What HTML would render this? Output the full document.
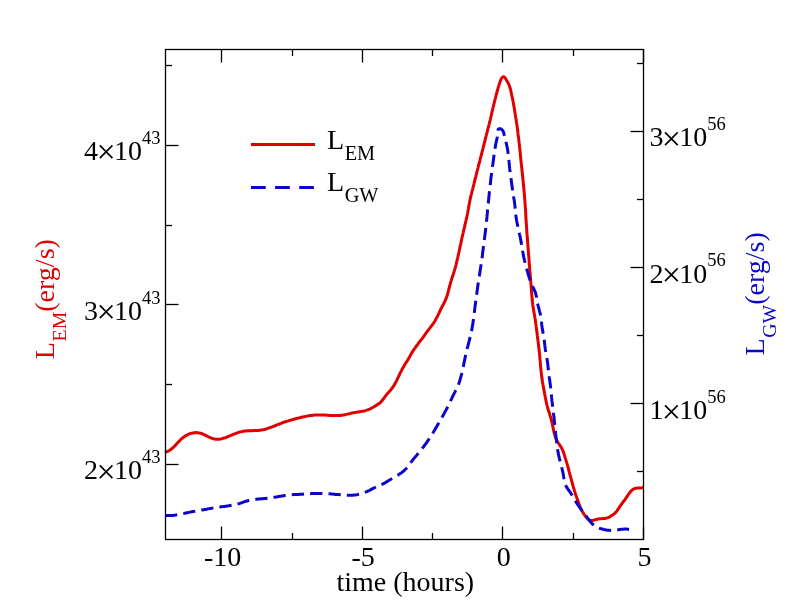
<!DOCTYPE html><html><head><meta charset="utf-8"><title>L_EM and L_GW vs time</title><style>html,body{margin:0;padding:0;background:#fff;}svg{display:block;will-change:transform;}</style></head><body>
<svg width="792" height="612" viewBox="0 0 792 612" font-family="'Liberation Serif', 'Times New Roman', serif">
<rect width="792" height="612" fill="#fff"/>
<path d="M165.0,452.4 L166.5,451.9 L167.9,451.3 L169.2,450.5 L170.4,449.7 L171.6,448.8 L172.7,447.9 L173.8,446.9 L174.9,445.8 L175.9,444.7 L176.9,443.6 L177.9,442.5 L179.0,441.4 L180.0,440.3 L181.1,439.2 L182.3,438.2 L183.5,437.3 L184.7,436.4 L186.0,435.6 L187.3,434.8 L188.7,434.2 L190.1,433.6 L191.6,433.2 L193.1,432.9 L194.6,432.7 L196.1,432.6 L197.6,432.7 L199.1,432.9 L200.5,433.2 L202.0,433.7 L203.3,434.3 L204.7,434.9 L206.1,435.6 L207.4,436.3 L208.8,437.0 L210.2,437.6 L211.6,438.2 L213.1,438.6 L214.5,439.0 L216.0,439.2 L217.5,439.3 L219.0,439.2 L220.5,439.0 L222.0,438.7 L223.4,438.2 L224.9,437.8 L226.3,437.3 L227.7,436.7 L229.1,436.2 L230.5,435.6 L231.8,435.0 L233.2,434.4 L234.6,433.8 L236.0,433.3 L237.4,432.8 L238.9,432.3 L240.3,431.9 L241.8,431.6 L243.3,431.3 L244.8,431.1 L246.3,431.0 L247.8,430.8 L249.3,430.8 L250.8,430.7 L252.3,430.7 L253.8,430.6 L255.3,430.6 L256.8,430.5 L258.3,430.4 L259.8,430.2 L261.3,430.0 L262.7,429.8 L264.2,429.5 L265.7,429.1 L267.1,428.7 L268.6,428.2 L270.0,427.7 L271.4,427.2 L272.8,426.7 L274.2,426.1 L275.6,425.5 L277.0,424.9 L278.4,424.4 L279.7,423.8 L281.2,423.3 L282.6,422.7 L284.0,422.2 L285.4,421.8 L286.8,421.3 L288.3,420.9 L289.7,420.4 L291.2,420.0 L292.6,419.6 L294.1,419.2 L295.5,418.8 L297.0,418.4 L298.4,418.0 L299.9,417.7 L301.3,417.3 L302.8,417.0 L304.3,416.7 L305.8,416.4 L307.2,416.1 L308.7,415.8 L310.2,415.6 L311.7,415.4 L313.2,415.2 L314.7,415.1 L316.2,415.0 L317.7,414.9 L319.2,414.9 L320.7,414.9 L322.2,415.0 L323.7,415.0 L325.2,415.1 L326.7,415.2 L328.2,415.3 L329.7,415.4 L331.2,415.5 L332.7,415.5 L334.2,415.6 L335.8,415.6 L337.3,415.5 L338.8,415.5 L340.3,415.4 L341.8,415.2 L343.2,415.0 L344.7,414.7 L346.2,414.4 L347.6,414.1 L349.1,413.7 L350.6,413.4 L352.0,413.0 L353.5,412.7 L355.0,412.4 L356.5,412.2 L358.0,412.0 L359.5,411.8 L361.0,411.6 L362.5,411.3 L363.9,411.0 L365.4,410.7 L366.8,410.2 L368.2,409.7 L369.6,409.1 L371.0,408.4 L372.3,407.7 L373.6,407.0 L374.9,406.2 L376.2,405.4 L377.4,404.6 L378.7,403.8 L379.9,402.8 L381.0,401.8 L382.0,400.7 L382.9,399.5 L383.8,398.3 L384.7,397.1 L385.6,395.9 L386.5,394.7 L387.5,393.6 L388.5,392.4 L389.5,391.3 L390.5,390.2 L391.4,389.0 L392.4,387.8 L393.2,386.6 L394.1,385.3 L394.8,384.0 L395.5,382.7 L396.2,381.4 L396.9,380.0 L397.5,378.7 L398.2,377.3 L398.8,375.9 L399.5,374.6 L400.1,373.2 L400.8,371.9 L401.5,370.6 L402.2,369.2 L402.9,367.9 L403.7,366.6 L404.4,365.3 L405.2,364.0 L406.0,362.7 L406.8,361.5 L407.6,360.2 L408.4,358.9 L409.1,357.6 L409.9,356.3 L410.6,355.0 L411.3,353.7 L412.1,352.4 L412.9,351.1 L413.7,349.8 L414.6,348.6 L415.5,347.4 L416.3,346.2 L417.2,345.0 L418.1,343.8 L419.0,342.5 L419.9,341.3 L420.9,340.1 L421.8,339.0 L422.7,337.8 L423.6,336.5 L424.5,335.3 L425.3,334.1 L426.2,332.9 L427.1,331.7 L428.0,330.5 L428.9,329.3 L429.8,328.1 L430.8,326.9 L431.7,325.7 L432.6,324.5 L433.4,323.3 L434.3,322.0 L435.1,320.7 L435.8,319.4 L436.5,318.1 L437.2,316.8 L437.9,315.4 L438.5,314.1 L439.2,312.7 L439.8,311.3 L440.5,310.0 L441.1,308.6 L441.8,307.3 L442.5,306.0 L443.2,304.7 L443.9,303.3 L444.6,302.0 L445.2,300.6 L445.8,299.2 L446.4,297.8 L446.8,296.4 L447.3,295.0 L447.7,293.5 L448.1,292.1 L448.5,290.6 L448.9,289.2 L449.2,287.7 L449.6,286.2 L450.0,284.8 L450.4,283.3 L450.8,281.9 L451.3,280.4 L451.7,279.0 L452.2,277.6 L452.6,276.1 L453.1,274.7 L453.6,273.3 L454.0,271.9 L454.5,270.4 L454.9,269.0 L455.3,267.5 L455.7,266.1 L456.1,264.6 L456.4,263.2 L456.8,261.7 L457.1,260.2 L457.4,258.8 L457.8,257.3 L458.1,255.8 L458.4,254.4 L458.8,252.9 L459.1,251.4 L459.4,250.0 L459.7,248.5 L460.0,247.0 L460.3,245.5 L460.7,244.1 L461.0,242.6 L461.3,241.1 L461.6,239.7 L461.9,238.2 L462.3,236.7 L462.6,235.3 L462.9,233.8 L463.3,232.3 L463.6,230.9 L463.9,229.4 L464.3,227.9 L464.6,226.5 L465.0,225.0 L465.3,223.5 L465.6,222.1 L466.0,220.6 L466.3,219.1 L466.7,217.7 L467.0,216.2 L467.3,214.7 L467.6,213.3 L467.8,211.8 L468.1,210.3 L468.4,208.8 L468.6,207.3 L468.9,205.9 L469.2,204.4 L469.4,202.9 L469.7,201.4 L470.0,199.9 L470.3,198.5 L470.7,197.0 L471.0,195.6 L471.4,194.1 L471.7,192.6 L472.1,191.2 L472.5,189.7 L472.9,188.3 L473.2,186.8 L473.6,185.4 L474.0,183.9 L474.3,182.4 L474.7,181.0 L475.0,179.5 L475.4,178.0 L475.8,176.6 L476.1,175.1 L476.5,173.7 L476.8,172.2 L477.2,170.8 L477.6,169.3 L478.0,167.8 L478.3,166.4 L478.7,164.9 L479.1,163.5 L479.5,162.0 L479.9,160.6 L480.2,159.1 L480.6,157.7 L481.0,156.2 L481.4,154.7 L481.7,153.3 L482.1,151.8 L482.5,150.4 L482.9,148.9 L483.2,147.5 L483.6,146.0 L484.0,144.5 L484.3,143.1 L484.7,141.6 L485.1,140.2 L485.4,138.7 L485.8,137.2 L486.2,135.8 L486.5,134.3 L486.9,132.9 L487.3,131.4 L487.7,130.0 L488.0,128.5 L488.4,127.1 L488.8,125.6 L489.2,124.1 L489.5,122.7 L489.9,121.2 L490.3,119.8 L490.6,118.3 L490.9,116.8 L491.3,115.4 L491.6,113.9 L491.9,112.4 L492.3,111.0 L492.6,109.5 L492.9,108.0 L493.3,106.6 L493.6,105.1 L494.0,103.6 L494.4,102.2 L494.7,100.7 L495.1,99.3 L495.5,97.8 L495.8,96.4 L496.2,94.9 L496.6,93.5 L497.0,92.0 L497.4,90.5 L497.8,89.1 L498.2,87.6 L498.7,86.2 L499.1,84.7 L499.5,83.3 L500.0,82.0 L500.5,80.6 L501.1,79.2 L502.1,77.7 L503.2,76.7 L504.3,76.9 L505.3,78.2 L506.2,79.7 L507.0,81.1 L507.8,82.3 L508.4,83.5 L509.0,84.9 L509.6,86.3 L510.0,87.8 L510.5,89.2 L510.8,90.7 L511.1,92.2 L511.4,93.6 L511.7,95.1 L512.1,96.6 L512.4,98.0 L512.7,99.5 L513.0,101.0 L513.3,102.5 L513.5,103.9 L513.8,105.4 L514.0,106.9 L514.3,108.4 L514.5,109.9 L514.8,111.4 L515.0,112.8 L515.2,114.3 L515.5,115.8 L515.7,117.3 L516.0,118.8 L516.2,120.3 L516.4,121.7 L516.6,123.2 L516.9,124.7 L517.1,126.2 L517.3,127.7 L517.5,129.2 L517.7,130.7 L517.9,132.2 L518.0,133.7 L518.2,135.2 L518.4,136.7 L518.6,138.1 L518.8,139.6 L518.9,141.1 L519.1,142.6 L519.3,144.1 L519.4,145.6 L519.6,147.1 L519.8,148.6 L519.9,150.1 L520.1,151.6 L520.2,153.1 L520.4,154.6 L520.5,156.1 L520.7,157.6 L520.8,159.1 L521.0,160.6 L521.1,162.1 L521.3,163.6 L521.4,165.1 L521.6,166.6 L521.8,168.1 L521.9,169.5 L522.1,171.0 L522.2,172.5 L522.4,174.0 L522.5,175.5 L522.7,177.0 L522.8,178.5 L523.0,180.0 L523.2,181.5 L523.3,183.0 L523.4,184.5 L523.6,186.0 L523.7,187.5 L523.9,189.0 L524.0,190.5 L524.1,192.0 L524.3,193.5 L524.4,195.0 L524.5,196.5 L524.6,198.0 L524.8,199.5 L524.9,201.0 L525.0,202.5 L525.1,204.0 L525.2,205.5 L525.3,207.0 L525.4,208.5 L525.5,210.0 L525.6,211.5 L525.7,213.0 L525.8,214.5 L525.8,216.0 L525.9,217.5 L526.0,219.0 L526.1,220.5 L526.2,222.0 L526.3,223.5 L526.4,225.0 L526.5,226.5 L526.6,228.0 L526.7,229.5 L526.8,231.0 L526.9,232.5 L527.0,234.0 L527.1,235.5 L527.2,237.0 L527.4,238.5 L527.5,240.0 L527.6,241.5 L527.7,243.0 L527.8,244.5 L527.9,246.0 L528.1,247.5 L528.2,249.0 L528.3,250.5 L528.4,252.0 L528.5,253.5 L528.6,255.0 L528.8,256.5 L528.9,258.0 L529.0,259.5 L529.1,261.0 L529.2,262.5 L529.3,264.0 L529.4,265.5 L529.6,267.0 L529.7,268.5 L529.8,270.0 L529.9,271.5 L530.0,273.0 L530.2,274.5 L530.3,276.0 L530.4,277.5 L530.5,279.0 L530.7,280.5 L530.8,282.0 L530.9,283.5 L531.0,285.0 L531.2,286.5 L531.3,288.0 L531.4,289.5 L531.5,291.0 L531.6,292.5 L531.7,294.0 L531.8,295.5 L532.0,297.0 L532.1,298.5 L532.2,300.0 L532.4,301.5 L532.6,302.9 L532.7,304.4 L532.9,305.9 L533.1,307.4 L533.4,308.9 L533.6,310.4 L533.9,311.9 L534.1,313.4 L534.4,314.8 L534.7,316.3 L534.9,317.8 L535.2,319.3 L535.4,320.8 L535.6,322.3 L535.8,323.7 L536.1,325.2 L536.2,326.7 L536.4,328.2 L536.6,329.7 L536.8,331.2 L537.0,332.7 L537.2,334.2 L537.3,335.7 L537.5,337.2 L537.7,338.7 L537.9,340.2 L538.1,341.6 L538.3,343.1 L538.5,344.6 L538.6,346.1 L538.8,347.6 L539.0,349.1 L539.2,350.6 L539.3,352.1 L539.5,353.6 L539.6,355.1 L539.8,356.6 L539.9,358.1 L540.0,359.6 L540.2,361.1 L540.3,362.6 L540.4,364.1 L540.5,365.6 L540.7,367.1 L540.8,368.6 L541.0,370.1 L541.1,371.6 L541.3,373.1 L541.5,374.6 L541.6,376.0 L541.9,377.5 L542.1,379.0 L542.3,380.5 L542.5,382.0 L542.8,383.5 L543.0,385.0 L543.3,386.4 L543.6,387.9 L543.8,389.4 L544.1,390.9 L544.4,392.4 L544.6,393.8 L544.9,395.3 L545.2,396.8 L545.5,398.3 L545.8,399.8 L546.1,401.2 L546.4,402.7 L546.7,404.2 L547.1,405.6 L547.5,407.1 L547.9,408.5 L548.3,410.0 L548.8,411.4 L549.2,412.8 L549.7,414.3 L550.1,415.7 L550.6,417.1 L551.0,418.6 L551.4,420.0 L551.7,421.5 L552.1,423.0 L552.4,424.4 L552.7,425.9 L553.0,427.4 L553.3,428.9 L553.6,430.3 L553.9,431.8 L554.3,433.3 L554.7,434.7 L555.1,436.1 L555.6,437.6 L556.2,439.0 L556.8,440.3 L557.5,441.7 L558.3,443.0 L559.1,444.2 L559.9,445.5 L560.8,446.7 L561.6,448.0 L562.3,449.3 L562.9,450.7 L563.4,452.1 L563.9,453.5 L564.3,455.0 L564.8,456.4 L565.2,457.9 L565.7,459.3 L566.1,460.7 L566.6,462.2 L567.0,463.6 L567.4,465.1 L567.8,466.5 L568.2,468.0 L568.6,469.4 L568.9,470.9 L569.3,472.3 L569.7,473.8 L570.1,475.2 L570.5,476.7 L570.9,478.1 L571.3,479.6 L571.7,481.1 L572.1,482.5 L572.5,483.9 L572.9,485.4 L573.3,486.8 L573.7,488.3 L574.2,489.7 L574.6,491.1 L575.1,492.6 L575.5,494.0 L576.0,495.4 L576.5,496.9 L577.0,498.3 L577.5,499.7 L578.0,501.1 L578.5,502.5 L579.0,504.0 L579.5,505.4 L580.1,506.8 L580.7,508.2 L581.3,509.5 L582.0,510.9 L582.7,512.2 L583.5,513.4 L584.3,514.7 L585.2,515.9 L586.1,517.1 L587.2,518.2 L588.4,519.3 L589.7,520.2 L591.0,520.6 L592.4,520.6 L593.9,520.2 L595.4,519.7 L596.9,519.2 L598.4,519.0 L599.9,518.8 L601.4,518.7 L602.9,518.6 L604.4,518.5 L605.9,518.2 L607.3,517.9 L608.7,517.3 L610.1,516.6 L611.3,515.8 L612.6,515.0 L613.8,514.1 L615.0,513.1 L616.0,512.1 L617.0,510.9 L617.8,509.7 L618.6,508.4 L619.5,507.1 L620.3,505.9 L621.2,504.7 L622.1,503.4 L623.0,502.2 L623.9,501.0 L624.8,499.8 L625.6,498.6 L626.5,497.4 L627.3,496.1 L628.1,494.9 L629.0,493.6 L629.9,492.4 L630.9,491.2 L632.0,490.2 L633.2,489.3 L634.5,488.6 L636.0,488.2 L637.5,488.1 L639.0,488.0 L640.6,487.9 L642.1,487.8 L643.5,487.5" fill="none" stroke="#e00000" stroke-width="3" stroke-linejoin="round" stroke-linecap="butt"/>
<path d="M165.0,515.4 L166.5,515.5 L168.0,515.6 L169.5,515.6 L171.0,515.5 L172.5,515.4 L174.0,515.3 L175.5,515.1 L177.0,514.8 L178.5,514.6 L179.9,514.3 L181.4,514.0 L182.9,513.7 L184.4,513.4 L185.8,513.0 L187.3,512.7 L188.8,512.4 L190.3,512.1 L191.7,511.8 L193.2,511.5 L194.7,511.3 L196.2,511.0 L197.6,510.7 L199.1,510.5 L200.6,510.2 L202.1,509.9 L203.6,509.7 L205.0,509.4 L206.5,509.2 L208.0,508.9 L209.5,508.6 L210.9,508.4 L212.4,508.1 L213.9,507.8 L215.4,507.6 L216.9,507.4 L218.4,507.1 L219.8,506.9 L221.3,506.7 L222.8,506.6 L224.3,506.4 L225.8,506.2 L227.3,506.0 L228.8,505.8 L230.3,505.5 L231.8,505.3 L233.2,505.0 L234.7,504.7 L236.2,504.4 L237.6,504.0 L239.1,503.6 L240.5,503.1 L241.9,502.7 L243.4,502.2 L244.8,501.7 L246.2,501.2 L247.7,500.8 L249.1,500.4 L250.6,500.1 L252.1,499.8 L253.5,499.6 L255.0,499.4 L256.5,499.2 L258.0,499.0 L259.5,498.9 L261.0,498.8 L262.5,498.7 L264.0,498.6 L265.5,498.5 L267.0,498.3 L268.5,498.2 L270.0,498.0 L271.5,497.8 L273.0,497.6 L274.5,497.3 L275.9,497.1 L277.4,496.8 L278.9,496.5 L280.4,496.2 L281.9,496.0 L283.3,495.7 L284.8,495.5 L286.3,495.3 L287.8,495.1 L289.3,494.9 L290.8,494.8 L292.3,494.7 L293.8,494.6 L295.3,494.5 L296.8,494.4 L298.3,494.4 L299.8,494.3 L301.3,494.2 L302.8,494.2 L304.3,494.1 L305.8,494.0 L307.3,493.9 L308.8,493.8 L310.3,493.7 L311.8,493.6 L313.3,493.5 L314.8,493.4 L316.3,493.4 L317.8,493.4 L319.3,493.4 L320.8,493.4 L322.3,493.4 L323.8,493.5 L325.3,493.6 L326.8,493.6 L328.3,493.7 L329.8,493.8 L331.3,494.0 L332.8,494.1 L334.3,494.2 L335.8,494.4 L337.3,494.5 L338.8,494.6 L340.3,494.8 L341.8,494.9 L343.3,495.0 L344.8,495.1 L346.3,495.2 L347.8,495.2 L349.3,495.2 L350.8,495.2 L352.3,495.2 L353.8,495.1 L355.3,494.9 L356.8,494.7 L358.3,494.4 L359.7,494.1 L361.2,493.7 L362.6,493.2 L364.0,492.7 L365.4,492.2 L366.8,491.6 L368.2,490.9 L369.6,490.3 L370.9,489.6 L372.2,488.9 L373.6,488.2 L374.9,487.5 L376.2,486.8 L377.6,486.2 L379.0,485.6 L380.4,485.0 L381.8,484.4 L383.1,483.8 L384.5,483.1 L385.8,482.4 L387.0,481.6 L388.3,480.8 L389.6,480.0 L390.9,479.2 L392.2,478.5 L393.5,477.7 L394.8,477.0 L396.1,476.2 L397.4,475.4 L398.7,474.6 L399.9,473.8 L401.2,472.9 L402.4,472.0 L403.5,471.1 L404.6,470.1 L405.7,469.0 L406.7,467.9 L407.6,466.7 L408.5,465.6 L409.4,464.3 L410.3,463.1 L411.2,461.9 L412.2,460.7 L413.1,459.5 L414.0,458.4 L415.0,457.2 L416.0,456.1 L417.0,454.9 L417.9,453.8 L418.9,452.6 L419.9,451.5 L420.8,450.3 L421.7,449.1 L422.6,447.9 L423.6,446.7 L424.4,445.5 L425.3,444.3 L426.2,443.1 L427.1,441.9 L427.9,440.6 L428.8,439.4 L429.6,438.1 L430.4,436.9 L431.2,435.6 L432.0,434.3 L432.8,433.0 L433.6,431.8 L434.4,430.5 L435.1,429.2 L435.9,427.9 L436.7,426.6 L437.4,425.3 L438.2,424.0 L438.9,422.7 L439.7,421.4 L440.4,420.1 L441.2,418.8 L441.9,417.5 L442.6,416.2 L443.4,414.9 L444.1,413.6 L444.8,412.2 L445.6,410.9 L446.3,409.6 L447.0,408.3 L447.7,406.9 L448.4,405.6 L449.0,404.3 L449.7,402.9 L450.3,401.5 L450.9,400.2 L451.6,398.8 L452.2,397.4 L452.8,396.1 L453.5,394.7 L454.2,393.4 L454.9,392.1 L455.6,390.7 L456.3,389.4 L457.0,388.1 L457.6,386.7 L458.2,385.3 L458.7,383.9 L459.2,382.5 L459.7,381.1 L460.1,379.6 L460.5,378.2 L460.9,376.7 L461.3,375.3 L461.7,373.8 L462.0,372.3 L462.3,370.9 L462.6,369.4 L463.0,367.9 L463.3,366.5 L463.6,365.0 L463.9,363.5 L464.2,362.0 L464.5,360.6 L464.8,359.1 L465.1,357.6 L465.4,356.2 L465.7,354.7 L466.0,353.2 L466.4,351.8 L466.8,350.3 L467.1,348.9 L467.5,347.4 L467.9,345.9 L468.3,344.5 L468.7,343.0 L469.0,341.6 L469.4,340.1 L469.8,338.7 L470.1,337.2 L470.5,335.8 L470.8,334.3 L471.2,332.8 L471.5,331.4 L471.8,329.9 L472.0,328.4 L472.3,326.9 L472.5,325.4 L472.8,324.0 L473.0,322.5 L473.2,321.0 L473.4,319.5 L473.6,318.0 L473.8,316.5 L474.0,315.0 L474.2,313.5 L474.4,312.0 L474.6,310.5 L474.7,309.1 L474.9,307.6 L475.1,306.1 L475.3,304.6 L475.5,303.1 L475.7,301.6 L475.9,300.1 L476.1,298.6 L476.3,297.1 L476.5,295.6 L476.7,294.2 L476.9,292.7 L477.1,291.2 L477.3,289.7 L477.5,288.2 L477.7,286.7 L477.9,285.2 L478.1,283.7 L478.4,282.3 L478.6,280.8 L478.8,279.3 L479.0,277.8 L479.3,276.3 L479.5,274.8 L479.7,273.3 L480.0,271.9 L480.2,270.4 L480.4,268.9 L480.7,267.4 L480.9,265.9 L481.1,264.4 L481.3,262.9 L481.6,261.5 L481.8,260.0 L482.0,258.5 L482.2,257.0 L482.4,255.5 L482.5,254.0 L482.7,252.5 L482.9,251.0 L483.1,249.5 L483.3,248.0 L483.4,246.5 L483.6,245.1 L483.8,243.6 L484.0,242.1 L484.2,240.6 L484.4,239.1 L484.6,237.6 L484.8,236.1 L485.0,234.6 L485.2,233.1 L485.4,231.6 L485.5,230.2 L485.7,228.7 L485.9,227.2 L486.1,225.7 L486.2,224.2 L486.4,222.7 L486.5,221.2 L486.7,219.7 L486.8,218.2 L487.0,216.7 L487.1,215.2 L487.3,213.7 L487.4,212.2 L487.5,210.7 L487.7,209.2 L487.8,207.7 L488.0,206.2 L488.1,204.7 L488.3,203.2 L488.4,201.8 L488.6,200.3 L488.7,198.8 L488.9,197.3 L489.0,195.8 L489.2,194.3 L489.3,192.8 L489.5,191.3 L489.7,189.8 L489.8,188.3 L490.0,186.8 L490.2,185.3 L490.3,183.8 L490.5,182.3 L490.7,180.8 L490.8,179.3 L491.0,177.8 L491.2,176.3 L491.4,174.9 L491.6,173.4 L491.8,171.9 L491.9,170.4 L492.1,168.9 L492.3,167.4 L492.5,166.0 L492.8,164.5 L493.0,163.0 L493.2,161.5 L493.4,160.0 L493.6,158.5 L493.8,157.0 L494.0,155.5 L494.2,154.0 L494.5,152.5 L494.7,150.9 L494.9,149.4 L495.1,147.9 L495.4,146.4 L495.6,144.9 L495.9,143.5 L496.2,142.1 L496.5,140.7 L496.8,139.4 L497.1,138.0 L497.3,136.5 L497.5,134.8 L497.6,133.0 L497.7,131.1 L498.1,129.6 L498.9,128.7 L500.2,128.7 L501.7,129.4 L502.7,130.5 L503.4,131.9 L503.9,133.4 L504.2,134.9 L504.6,136.3 L505.0,137.8 L505.3,139.2 L505.7,140.7 L506.0,142.1 L506.4,143.6 L506.7,145.1 L507.0,146.5 L507.3,148.0 L507.6,149.5 L507.8,151.0 L508.0,152.5 L508.2,154.0 L508.4,155.4 L508.6,156.9 L508.7,158.4 L508.9,159.9 L509.0,161.4 L509.2,162.9 L509.3,164.4 L509.4,165.9 L509.6,167.4 L509.7,168.9 L509.9,170.4 L510.1,171.9 L510.2,173.4 L510.4,174.9 L510.6,176.4 L510.9,177.8 L511.1,179.3 L511.3,180.8 L511.5,182.3 L511.7,183.8 L511.9,185.3 L512.1,186.8 L512.3,188.3 L512.5,189.8 L512.7,191.2 L513.0,192.7 L513.2,194.2 L513.5,195.7 L513.7,197.2 L513.9,198.7 L514.2,200.1 L514.4,201.6 L514.6,203.1 L514.8,204.6 L515.0,206.1 L515.1,207.6 L515.2,209.1 L515.4,210.6 L515.5,212.1 L515.7,213.6 L515.8,215.1 L516.0,216.6 L516.2,218.1 L516.5,219.5 L516.7,221.0 L517.0,222.5 L517.3,224.0 L517.6,225.5 L517.9,226.9 L518.2,228.4 L518.5,229.9 L518.9,231.3 L519.2,232.8 L519.5,234.3 L519.9,235.7 L520.2,237.2 L520.5,238.7 L520.8,240.1 L521.0,241.6 L521.3,243.1 L521.5,244.6 L521.8,246.1 L522.0,247.5 L522.3,249.0 L522.5,250.5 L522.8,252.0 L523.1,253.5 L523.3,254.9 L523.6,256.4 L523.9,257.9 L524.3,259.3 L524.6,260.8 L525.0,262.3 L525.3,263.7 L525.7,265.2 L526.1,266.6 L526.5,268.1 L526.9,269.5 L527.3,271.0 L527.7,272.4 L528.1,273.9 L528.5,275.3 L529.0,276.8 L529.4,278.2 L529.9,279.6 L530.4,281.0 L530.9,282.4 L531.5,283.8 L532.1,285.2 L532.7,286.6 L533.4,288.0 L534.0,289.3 L534.6,290.7 L535.2,292.1 L535.7,293.5 L536.0,294.9 L536.4,296.4 L536.6,297.9 L536.9,299.4 L537.1,300.9 L537.4,302.3 L537.7,303.8 L538.0,305.3 L538.4,306.8 L538.8,308.2 L539.2,309.7 L539.5,311.1 L539.9,312.6 L540.3,314.0 L540.6,315.5 L540.8,317.0 L541.1,318.4 L541.3,319.9 L541.4,321.4 L541.6,322.9 L541.7,324.4 L541.9,325.9 L542.1,327.4 L542.3,328.9 L542.6,330.4 L542.9,331.9 L543.1,333.3 L543.4,334.8 L543.7,336.3 L543.9,337.8 L544.1,339.3 L544.3,340.8 L544.5,342.2 L544.7,343.7 L544.8,345.2 L545.0,346.7 L545.2,348.2 L545.4,349.7 L545.7,351.2 L545.9,352.7 L546.2,354.1 L546.5,355.6 L546.7,357.1 L547.0,358.6 L547.2,360.1 L547.4,361.6 L547.6,363.0 L547.8,364.5 L547.9,366.0 L548.1,367.5 L548.2,369.0 L548.4,370.5 L548.5,372.0 L548.7,373.5 L548.9,375.0 L549.1,376.5 L549.3,378.0 L549.6,379.5 L549.8,380.9 L550.0,382.4 L550.2,383.9 L550.4,385.4 L550.6,386.9 L550.7,388.4 L550.9,389.9 L551.0,391.4 L551.2,392.9 L551.3,394.4 L551.5,395.9 L551.6,397.4 L551.8,398.9 L551.9,400.4 L552.1,401.9 L552.3,403.3 L552.4,404.8 L552.6,406.3 L552.8,407.8 L553.0,409.3 L553.2,410.8 L553.4,412.3 L553.5,413.8 L553.7,415.3 L553.9,416.8 L554.1,418.3 L554.3,419.8 L554.4,421.2 L554.6,422.7 L554.7,424.2 L554.9,425.7 L555.0,427.2 L555.2,428.7 L555.3,430.2 L555.5,431.7 L555.6,433.2 L555.8,434.7 L556.0,436.2 L556.1,437.7 L556.3,439.2 L556.5,440.7 L556.6,442.2 L556.8,443.7 L557.0,445.1 L557.2,446.6 L557.4,448.1 L557.6,449.6 L557.9,451.1 L558.1,452.6 L558.4,454.1 L558.7,455.5 L559.1,457.0 L559.4,458.4 L559.8,459.9 L560.2,461.4 L560.6,462.8 L561.0,464.3 L561.3,465.7 L561.7,467.2 L562.0,468.6 L562.4,470.1 L562.7,471.5 L563.0,473.0 L563.3,474.5 L563.5,476.0 L563.8,477.5 L564.0,479.0 L564.3,480.5 L564.6,482.0 L565.0,483.4 L565.5,484.8 L566.1,486.2 L566.8,487.5 L567.7,488.7 L568.5,490.0 L569.4,491.2 L570.3,492.4 L571.1,493.7 L571.9,495.0 L572.6,496.3 L573.4,497.6 L574.1,498.9 L574.9,500.2 L575.7,501.5 L576.5,502.7 L577.3,504.0 L578.2,505.2 L579.0,506.5 L579.9,507.7 L580.8,508.9 L581.7,510.1 L582.6,511.3 L583.5,512.5 L584.4,513.7 L585.3,514.9 L586.2,516.1 L587.0,517.4 L587.9,518.6 L588.8,519.8 L589.8,521.0 L590.7,522.1 L591.7,523.3 L592.8,524.3 L593.9,525.3 L595.1,526.2 L596.4,527.0 L597.7,527.6 L599.2,528.2 L600.6,528.6 L602.1,529.0 L603.6,529.4 L605.1,529.7 L606.5,530.0 L608.0,530.2 L609.5,530.3 L611.0,530.4 L612.5,530.4 L614.0,530.3 L615.5,530.1 L617.0,529.9 L618.5,529.7 L620.0,529.5 L621.5,529.3 L623.0,529.2 L624.5,529.1 L626.0,529.1 L627.5,529.2 L629.0,529.5" fill="none" stroke="#0a04cc" stroke-width="3" stroke-linejoin="round" stroke-dasharray="12.3 6.1"/>
<g stroke="#000" stroke-width="1.3" fill="none">
<rect x="165.5" y="49.5" width="478.0" height="490.0"/>
<path d="M221.5,539.5 V526.5 M221.5,49.5 V62.5"/>
<path d="M362.5,539.5 V526.5 M362.5,49.5 V62.5"/>
<path d="M502.5,539.5 V526.5 M502.5,49.5 V62.5"/>
<path d="M643.5,539.5 V526.5 M643.5,49.5 V62.5"/>
<path d="M292.5,539.5 V533.0 M292.5,49.5 V56.0"/>
<path d="M432.5,539.5 V533.0 M432.5,49.5 V56.0"/>
<path d="M573.5,539.5 V533.0 M573.5,49.5 V56.0"/>
<path d="M165.5,145.5 H178.5"/>
<path d="M165.5,304.5 H178.5"/>
<path d="M165.5,464.5 H178.5"/>
<path d="M165.5,65.5 H172.0"/>
<path d="M165.5,225.5 H172.0"/>
<path d="M165.5,384.5 H172.0"/>
<path d="M643.5,131.5 H630.5"/>
<path d="M643.5,267.5 H630.5"/>
<path d="M643.5,403.5 H630.5"/>
<path d="M643.5,63.5 H637.0"/>
<path d="M643.5,199.5 H637.0"/>
<path d="M643.5,335.5 H637.0"/>
<path d="M643.5,471.5 H637.0"/>
</g>
<g font-size="28" fill="#000" text-anchor="middle">
<text x="222.6" y="565.6">-10</text>
<text x="363.2" y="565.6">-5</text>
<text x="503.8" y="565.6">0</text>
<text x="644.4" y="565.6">5</text>
</g>
<g font-size="28" fill="#000" text-anchor="end">
<text x="160.4" y="159.8">4<tspan font-size="34" dx="-1.69" dy="3.52">×</tspan><tspan dx="-1.69" dy="-3.52">10</tspan><tspan font-size="18.5" dy="-16">43</tspan></text>
<text x="160.4" y="319.5">3<tspan font-size="34" dx="-1.69" dy="3.52">×</tspan><tspan dx="-1.69" dy="-3.52">10</tspan><tspan font-size="18.5" dy="-16">43</tspan></text>
<text x="160.4" y="479.3">2<tspan font-size="34" dx="-1.69" dy="3.52">×</tspan><tspan dx="-1.69" dy="-3.52">10</tspan><tspan font-size="18.5" dy="-16">43</tspan></text>
</g>
<g font-size="28" fill="#000">
<text x="649.5" y="146.3">3<tspan font-size="34" dx="-1.69" dy="3.52">×</tspan><tspan dx="-1.69" dy="-3.52">10</tspan><tspan font-size="18.5" dy="-16.3">56</tspan></text>
<text x="649.5" y="282.5">2<tspan font-size="34" dx="-1.69" dy="3.52">×</tspan><tspan dx="-1.69" dy="-3.52">10</tspan><tspan font-size="18.5" dy="-16.3">56</tspan></text>
<text x="649.5" y="419">1<tspan font-size="34" dx="-1.69" dy="3.52">×</tspan><tspan dx="-1.69" dy="-3.52">10</tspan><tspan font-size="18.5" dy="-16.3">56</tspan></text>
</g>
<text x="405.3" y="591" font-size="28" text-anchor="middle" fill="#000">time (hours)</text>
<text transform="translate(54.1,359.3) rotate(-90)" font-size="28" fill="#e00000">L<tspan font-size="19.8" dx="0.8" dy="12">EM</tspan><tspan dy="-12">(erg/s)</tspan></text>
<text transform="translate(764.3,355.6) rotate(-90)" font-size="28" fill="#0a04cc">L<tspan font-size="19.8" dx="0.8" dy="12">GW</tspan><tspan dy="-12">(erg/s)</tspan></text>
<path d="M251,144.5 H315" stroke="#e00000" stroke-width="3" fill="none"/>
<path d="M251,187.5 H315" stroke="#0a04cc" stroke-width="3" fill="none" stroke-dasharray="14.7 9.4"/>
<text x="327" y="148.9" font-size="28" fill="#000">L<tspan font-size="20.3" dx="0.6" dy="11">EM</tspan></text>
<text x="327" y="191" font-size="28" fill="#000">L<tspan font-size="20.3" dx="0.6" dy="11">GW</tspan></text>
</svg></body></html>
